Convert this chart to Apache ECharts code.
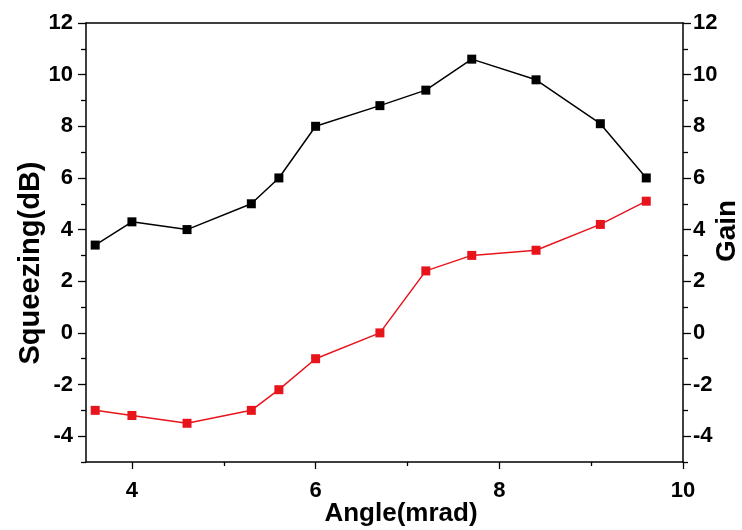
<!DOCTYPE html>
<html>
<head>
<meta charset="utf-8">
<script src="https://cdn.jsdelivr.net/npm/echarts@6/dist/echarts.min.js"></script>
<style>
  html, body { margin: 0; padding: 0; background: #fff; }
  #chart { width: 742px; height: 530px; }
</style>
</head>
<body>
<div id="chart"></div>
<script>
// angle values (mrad)
const angles = [3.6, 4.0, 4.6, 5.3, 5.6, 6.0, 6.7, 7.2, 7.7, 8.4, 9.1, 9.6]
// black curve
const blackValues = [3.4, 4.3, 4.0, 5.0, 6.0, 8.0, 8.8, 9.4, 10.6, 9.8, 8.1, 6.0]
// red curve
const redValues = [-3.0, -3.2, -3.5, -3.0, -2.2, -1.0, 0.0, 2.4, 3.0, 3.2, 4.2, 5.1]

const xTicks = [4, 6, 8, 10]
const xMinorTicks = [5, 7, 9]
const yTicks = [-4, -2, 0, 2, 4, 6, 8, 10, 12]
const yMinorTicks = [-5, -3, -1, 1, 3, 5, 7, 9, 11]

const chart = echarts.init(document.getElementById('chart'))

const fontFamily = 'Liberation Sans, Arial, sans-serif'
const black = '#000'

const labelStyle = {
    fontFamily: fontFamily,
    fontWeight: 'bold',
    fontSize: 22,
    color: black,
}

// axis that only draws ticks (no line, no labels)
function tickAxis(pos, min, max, values, len) {
    return {
        type: 'value',
        position: pos,
        min: min,
        max: max,
        axisLine: { show: false, onZero: false },
        axisTick: {
            show: true,
            length: len,
            customValues: values.slice(),
            lineStyle: { color: black, width: 1.3 },
        },
        axisLabel: { show: false },
        splitLine: { show: false },
    }
}

// y axis with line and labels
function yMain(pos, margin) {
    return {
        type: 'value',
        position: pos,
        min: -5,
        max: 12,
        axisLine: { show: true, onZero: false, lineStyle: { color: black, width: 1.5 } },
        axisTick: { show: false },
        axisLabel: Object.assign({ margin: margin, customValues: yTicks.slice() }, labelStyle),
        splitLine: { show: false },
    }
}

// axis titles as text elements
function titleText(text, x, y, size, rotate) {
    return {
        type: 'text',
        x: x,
        y: y,
        rotation: rotate ? Math.PI / 2 : 0,
        style: {
            text: text,
            fontFamily: fontFamily,
            fontWeight: 'bold',
            fontSize: size,
            fill: black,
            align: 'center',
            verticalAlign: 'middle',
        },
    }
}

const option = {
    backgroundColor: '#fff',
    animation: false,
    grid: {
        left: 86,
        right: 59,
        top: 23,
        bottom: 68,
        containLabel: false,
        outerBoundsMode: 'none',
    },
    graphic: [
        titleText('Squeezing(dB)', 31, 263, 29, true),
        titleText('Gain', 727, 231, 28, true),
        titleText('Angle(mrad)', 401, 514, 26, false),
    ],
    xAxis: [
        {
            type: 'value',
            position: 'bottom',
            min: 3.5,
            max: 10,
            axisLine: { show: true, onZero: false, lineStyle: { color: black, width: 1.5 } },
            axisTick: { show: false },
            axisLabel: Object.assign({ margin: 18, customValues: xTicks.slice() }, labelStyle),
            splitLine: { show: false },
        },
        tickAxis('bottom', 3.5, 10, xTicks, 7),
        tickAxis('bottom', 3.5, 10, xMinorTicks, 4),
        {
            type: 'value',
            position: 'top',
            min: 3.5,
            max: 10,
            axisLine: { show: true, onZero: false, lineStyle: { color: black, width: 1.5 } },
            axisTick: { show: false },
            axisLabel: { show: false },
            splitLine: { show: false },
        },
    ],
    yAxis: [
        yMain('left', 13),
        yMain('right', 10),
        tickAxis('left', -5, 12, yTicks, 8),
        tickAxis('left', -5, 12, yMinorTicks, 5),
        tickAxis('right', -5, 12, yTicks, 8),
        tickAxis('right', -5, 12, yMinorTicks, 5),
    ],
    series: [
        {
            type: 'line',
            yAxisIndex: 1,
            data: angles.map((a, i) => [a, blackValues[i]]),
            symbol: 'rect',
            symbolSize: 9,
            lineStyle: { color: black, width: 1.5 },
            itemStyle: { color: black },
        },
        {
            type: 'line',
            yAxisIndex: 0,
            data: angles.map((a, i) => [a, redValues[i]]),
            symbol: 'rect',
            symbolSize: 9,
            lineStyle: { color: '#e8141c', width: 1.5 },
            itemStyle: { color: '#e8141c' },
        },
    ],
}

chart.setOption(option)
</script>
</body>
</html>
